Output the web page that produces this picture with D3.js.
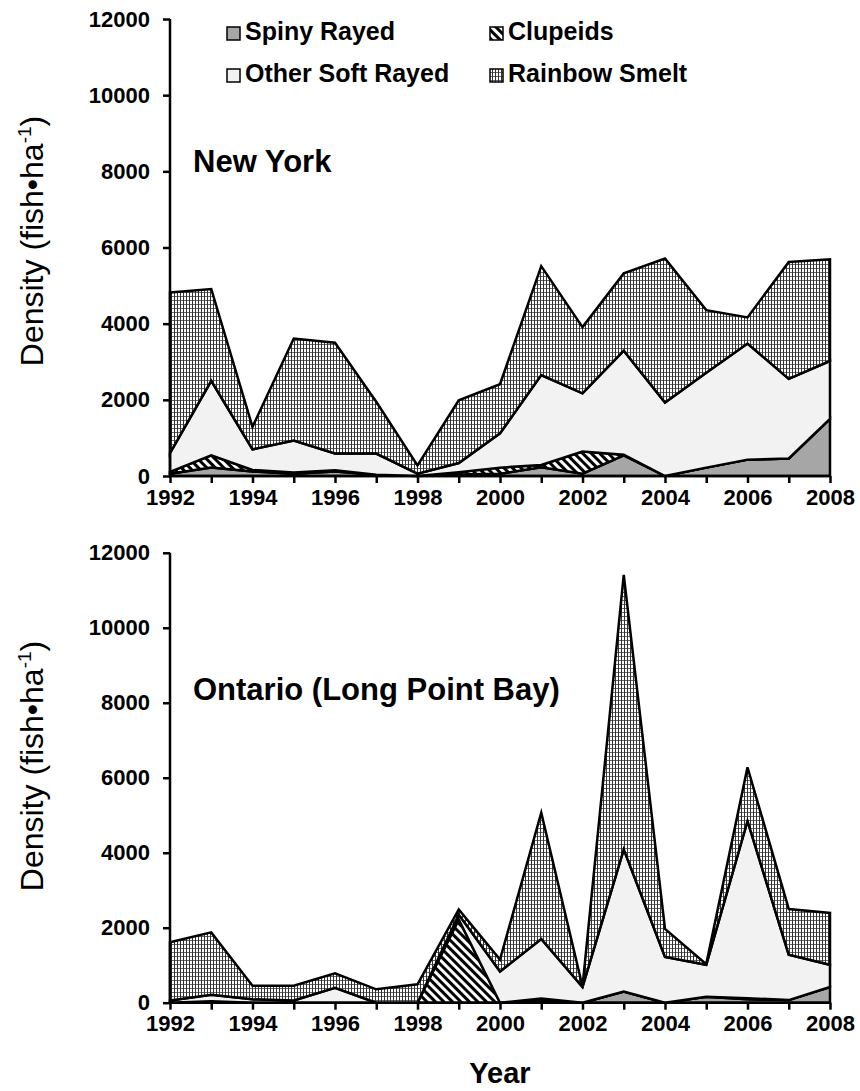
<!DOCTYPE html>
<html>
<head>
<meta charset="utf-8">
<script src="https://cdn.jsdelivr.net/npm/d3@7"></script>
<style>
  body { margin: 0; background: #fff; }
  svg { display: block; font-family: "Liberation Sans", Arial, sans-serif; }
</style>
</head>
<body>
<svg id="chart" width="860" height="1091"></svg>
<script>
// ---------- data ----------
const years = [1992,1993,1994,1995,1996,1997,1998,1999,2000,2001,2002,2003,2004,2005,2006,2007,2008];
const yTicks = [0,2000,4000,6000,8000,10000,12000];
const xTickLabels = [1992,1994,1996,1998,2000,2002,2004,2006,2008];
const seriesNames = ["Spiny Rayed","Clupeids","Other Soft Rayed","Rainbow Smelt"];

// New York
const nySpiny    = [60, 220, 120, 60, 120, 30, 0, 40, 60, 230, 60, 540, 0, 220, 430, 460, 1500];
const nyClupeids = [50, 320, 40, 30, 30, 0, 0, 60, 160, 60, 580, 20, 0, 0, 0, 0, 0];
const nyOther    = [490, 1960, 540, 840, 440, 560, 60, 240, 900, 2360, 1530, 2730, 1930, 2490, 3050, 2090, 1520];
const nySmelt    = [4220, 2410, 590, 2680, 2910, 1360, 220, 1650, 1290, 2860, 1740, 2030, 3780, 1645, 685, 3070, 2670];

// Ontario (Long Point Bay)
const onSpiny    = [0, 40, 0, 0, 0, 0, 0, 0, 0, 60, 0, 300, 0, 160, 90, 70, 420];
const onClupeids = [0, 0, 0, 0, 0, 0, 0, 2220, 0, 50, 0, 0, 0, 0, 30, 0, 0];
const onOther    = [60, 170, 90, 60, 400, 0, 0, 130, 830, 1590, 420, 3790, 1220, 850, 4730, 1210, 590];
const onSmelt    = [1550, 1665, 365, 395, 386, 357, 491, 140, 320, 3370, 10, 7320, 746, 20, 1430, 1220, 1385];

// ---------- drawing ----------
const svg = d3.select("#chart");
const defs = svg.append("defs");

// hatch for clupeids
const hatch = defs.append("pattern").attr("id","hatch")
  .attr("patternUnits","userSpaceOnUse").attr("width",6).attr("height",6)
  .attr("patternTransform","rotate(-45)");
hatch.append("rect").attr("width",6).attr("height",6).attr("fill","#fff");
hatch.append("rect").attr("x",0).attr("width",3).attr("height",6).attr("fill","#000");

// dots for smelt
const dots = defs.append("pattern").attr("id","dots")
  .attr("patternUnits","userSpaceOnUse").attr("width",3).attr("height",4);
dots.append("rect").attr("width",3).attr("height",4).attr("fill","#fff");
dots.append("rect").attr("x",0).attr("y",0).attr("width",1).attr("height",4).attr("fill","#333");
dots.append("rect").attr("x",1).attr("y",0).attr("width",2).attr("height",1).attr("fill","#666");

const fills = ["#a6a6a6","url(#hatch)","#f2f2f2","url(#dots)"];

const x = d3.scaleLinear().domain([1992,2008]).range([170,830]);

function panel(cfg) {
  const y = d3.scaleLinear().domain([0,12000]).range([cfg.y0, cfg.y1]);
  const rows = years.map((yr,i) => ({
    year: yr,
    s0: cfg.data[0][i], s1: cfg.data[1][i], s2: cfg.data[2][i], s3: cfg.data[3][i]
  }));
  const stack = d3.stack().keys(["s0","s1","s2","s3"]);
  const layers = stack(rows);
  const area = d3.area()
    .x(d => x(d.data.year))
    .y0(d => y(d[0]))
    .y1(d => y(d[1]));
  const g = svg.append("g");
  g.selectAll("path.layer").data(layers).join("path")
    .attr("class","layer")
    .attr("d", area)
    .attr("fill", (d,i) => fills[i])
    .attr("stroke","#000")
    .attr("stroke-width",2.5)
    .attr("stroke-linejoin","miter");

  // y axis
  const yAxis = d3.axisLeft(y).tickValues(yTicks).tickSize(7).tickPadding(13)
    .tickFormat(d3.format("d"));
  const ga = svg.append("g").attr("transform","translate(170,0)").call(yAxis);
  ga.select(".domain").attr("stroke-width",2.5).attr("d", `M-0,${cfg.y1}V${cfg.y0}`);
  ga.selectAll(".tick line").attr("stroke-width",2.5);
  ga.selectAll(".tick text").attr("font-size",22).attr("font-weight","bold")
    .attr("fill","#000").attr("font-family","Liberation Sans, Arial, sans-serif");

  // x axis
  const xAxis = d3.axisBottom(x).tickValues(years).tickSize(7).tickPadding(6)
    .tickFormat(d => xTickLabels.includes(d) ? String(d) : "");
  const gx = svg.append("g").attr("transform",`translate(0,${cfg.y0})`).call(xAxis);
  gx.select(".domain").attr("stroke-width",2.5).attr("d","M170,0H830");
  gx.selectAll(".tick line").attr("stroke-width",2.5);
  gx.selectAll(".tick text").attr("font-size",22).attr("font-weight","bold")
    .attr("fill","#000").attr("font-family","Liberation Sans, Arial, sans-serif");

  // panel title
  svg.append("text").attr("x",193).attr("y",cfg.titleY)
    .attr("font-size",31).attr("font-weight","bold").text(cfg.title);

  // y axis title
  const yt = svg.append("text")
    .attr("transform",`translate(43,${cfg.ytitleY}) rotate(-90)`)
    .attr("text-anchor","middle").attr("font-size",32);
  yt.append("tspan").text("Density (fish\u2022ha");
  yt.append("tspan").attr("font-size",19).attr("dy",-12).text("-1");
  yt.append("tspan").attr("dy",12).text(")");
}

panel({ data:[nySpiny,nyClupeids,nyOther,nySmelt], y0:476, y1:19,
        title:"New York", titleY:172, ytitleY:241 });
panel({ data:[onSpiny,onClupeids,onOther,onSmelt], y0:1002.7, y1:552.8,
        title:"Ontario (Long Point Bay)", titleY:700, ytitleY:766 });

// x title
svg.append("text").attr("x",500).attr("y",1083).attr("text-anchor","middle")
  .attr("font-size",29).attr("font-weight","bold").text("Year");

// legend
const legendPos = [[227,27],[490,27],[227,69],[490,69]];
const legendOrder = [0,1,2,3];
legendOrder.forEach((si,k) => {
  const [lx,ly] = legendPos[k];
  svg.append("rect").attr("x",lx).attr("y",ly).attr("width",13).attr("height",13)
    .attr("fill",fills[si]).attr("stroke","#000").attr("stroke-width",1.5);
  svg.append("text").attr("x",lx+18).attr("y",ly+13)
    .attr("font-size",25).attr("font-weight","bold").text(seriesNames[si]);
});
</script>
</body>
</html>
